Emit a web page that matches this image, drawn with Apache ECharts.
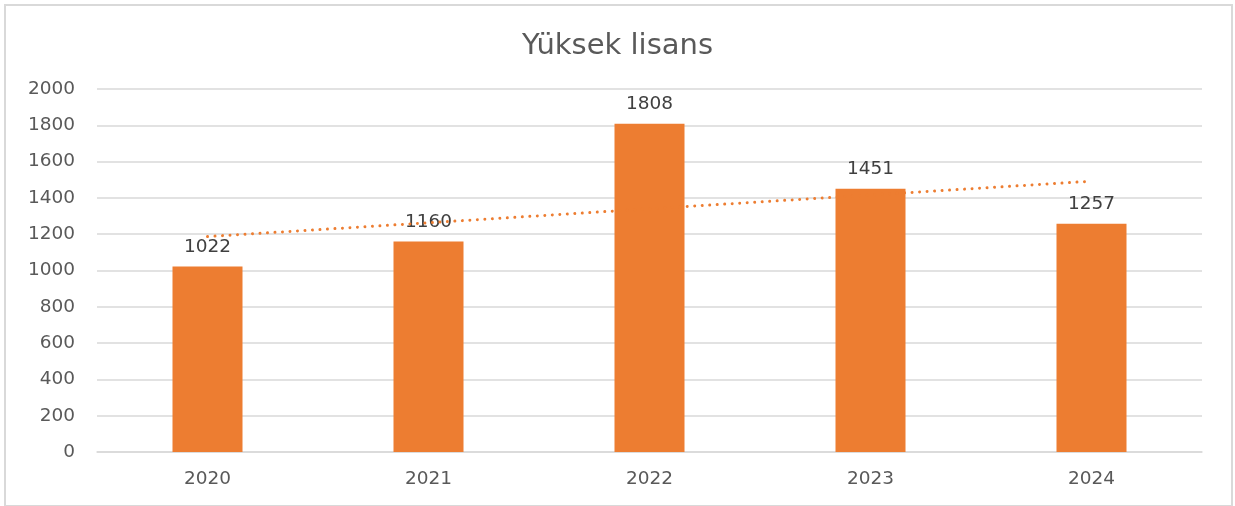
<!DOCTYPE html>
<html>
<head>
<meta charset="utf-8">
<script src="https://cdn.jsdelivr.net/npm/echarts@6/dist/echarts.min.js"></script>
<style>
  html, body { margin: 0; padding: 0; background: #fff; }
  .frame {
    position: absolute; left: 4px; top: 4px;
    width: 1225px; height: 499px;
    border: 2px solid #d9d9d9;
  }
  #chart { position: absolute; left: 0; top: 0; width: 1235px; height: 506px; }
</style>
</head>
<body>
<div class="frame"></div>
<div id="chart"></div>
<script>
// veriler
const years = ['2020', '2021', '2022', '2023', '2024']
const counts = [1022, 1160, 1808, 1451, 1257]
// doğrusal eğilim çizgisi
const trend = [1187, 1263, 1340, 1416, 1492]
const yTicks = { min: 0, max: 2000, step: 200 }

const font = 'DejaVu Sans, sans-serif'
const myChart = echarts.init(document.getElementById('chart'))
myChart.setOption({
  animation: false,
  title: {
    text: 'Yüksek lisans',
    left: 'center',
    top: 27,
    textStyle: { color: '#595959', fontSize: 29, fontWeight: 'normal', fontFamily: font }
  },
  grid: { left: 97, right: 33, top: 89, bottom: 54 },
  xAxis: {
    type: 'category',
    data: years,
    axisLine: { lineStyle: { color: '#d9d9d9', width: 1.5 } },
    axisTick: { show: false },
    axisLabel: { color: '#595959', fontSize: 18.5, margin: 18, fontFamily: font }
  },
  yAxis: {
    type: 'value',
    min: yTicks.min,
    max: yTicks.max,
    interval: yTicks.step,
    axisLine: { show: false },
    axisTick: { show: false },
    splitLine: { lineStyle: { color: '#d9d9d9', width: 1.5 } },
    axisLabel: {
      color: '#595959', fontSize: 18.5, margin: 22, fontFamily: font,
      formatter: v => String(v)
    }
  },
  series: [
    {
      type: 'bar',
      data: counts,
      barWidth: 70,
      itemStyle: { color: '#ED7D31' },
      label: {
        show: true,
        position: 'top',
        distance: 10,
        color: '#404040',
        fontSize: 18.5,
        fontFamily: font
      }
    },
    {
      type: 'line',
      data: trend,
      symbol: 'none',
      silent: true,
      lineStyle: { color: '#ED7D31', width: 3, type: [0.01, 7.5], cap: 'round' },
      z: 3
    }
  ]
})
</script>
</body>
</html>
